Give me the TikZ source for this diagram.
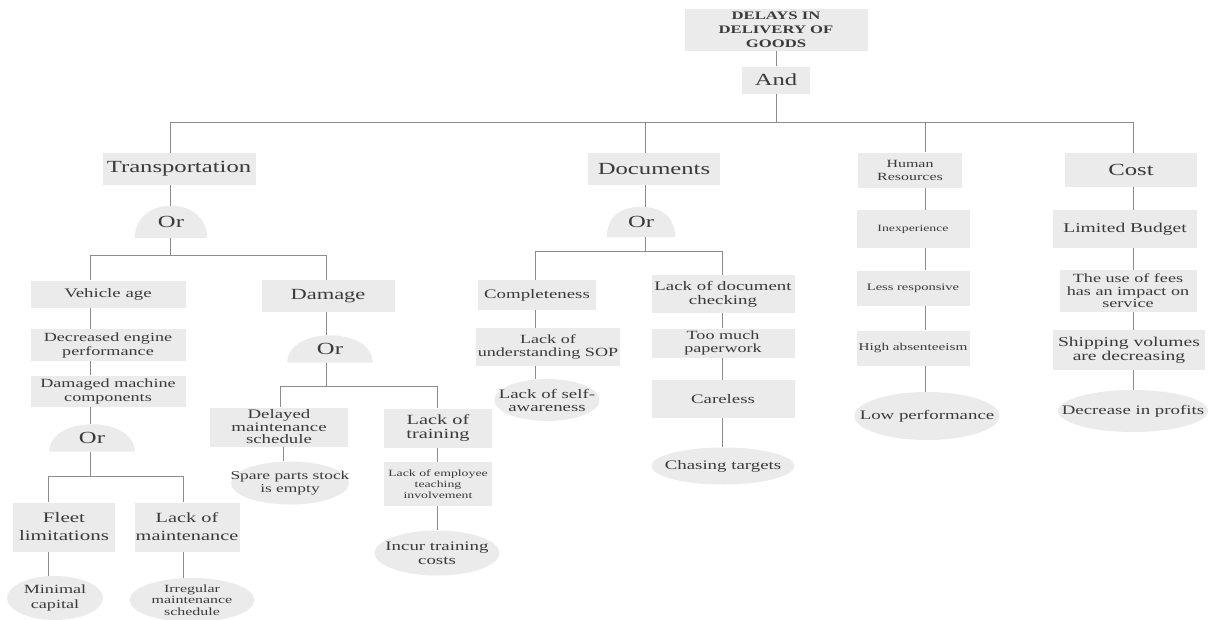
\documentclass[tikz,border=0pt]{standalone}
\usepackage{fontspec}
\setmainfont{Liberation Serif}[FakeStretch=1.45]
\usetikzlibrary{shapes.geometric,backgrounds}
\definecolor{boxgray}{HTML}{EBEBEB}
\definecolor{txt}{HTML}{3A3A3A}
\definecolor{lin}{HTML}{8C8C8C}
\newcommand\fs[2]{\fontsize{#1}{#2}\selectfont}
\newcommand\dome[1]{\fill[boxgray] (#1.south west) .. controls ([yshift=17pt]#1.south west) and ([xshift=-24pt]#1.north) .. (#1.north) .. controls ([xshift=24pt]#1.north) and ([yshift=17pt]#1.south east) .. (#1.south east) -- cycle;}
\begin{document}
\begin{tikzpicture}[x=1pt,y=-1pt,
  base/.style={fill=boxgray, text=txt, align=center, inner sep=1pt, font=\fs{13}{14}},
  rbox/.style={base, rectangle},
  ell/.style={base, ellipse, inner xsep=-60pt, inner ysep=-30pt},
  gate/.style={text=txt, inner sep=0pt, font=\fs{17}{18}},
  conn/.style={draw=lin, line width=0.8pt},
]
\useasboundingbox (0,0) rectangle (1208,619);

% x positions of vertical lines and y of bars
\coordinate (xT) at (170,0);
\coordinate (xV) at (90,0);
\coordinate (xD) at (326,0);
\coordinate (xF) at (48,0);
\coordinate (xL) at (183,0);
\coordinate (xDM) at (280,0);
\coordinate (xSP) at (283,0);
\coordinate (xLT) at (437,0);
\coordinate (xDoc) at (645,0);
\coordinate (xC) at (535,0);
\coordinate (xK) at (722,0);
\coordinate (xH) at (925,0);
\coordinate (xCo) at (1133,0);
\coordinate (yMain) at (0,122);
\coordinate (yB1) at (0,255);
\coordinate (yB2) at (0,476);
\coordinate (yB3) at (0,386);
\coordinate (yB4) at (0,251);

% top
\node[rbox, minimum width=183, minimum height=42, font=\bfseries\fs{11.5}{14}] (top) at (776,30) {DELAYS IN\\DELIVERY OF\\GOODS};
\node[rbox, minimum width=68, minimum height=27, font=\fs{17}{18}] (and) at (776,80) {And};

% level 1
\node[rbox, minimum width=153, minimum height=32, font=\fs{17}{18}] (tr) at (179,169) {Transportation};
\node[rbox, minimum width=132, minimum height=32, font=\fs{17}{18}] (doc) at (654,169) {Documents};
\node[rbox, minimum width=104, minimum height=35, font=\fs{11}{13}] (hr) at (910,170) {Human\\Resources};
\node[rbox, minimum width=132, minimum height=34, font=\fs{17}{18}] (cost) at (1131,170) {Cost};

% gates
\node[gate, minimum width=72, minimum height=32] (or1) at (171,222) {Or};
\node[gate, minimum width=85, minimum height=27] (or2) at (92,438) {Or};
\node[gate, minimum width=68, minimum height=30] (or3) at (641,222) {Or};
\node[gate, minimum width=85, minimum height=27] (or4) at (330,349) {Or};

% transportation
\node[rbox, minimum width=155, minimum height=27] (va) at (108,294) {Vehicle age};
\node[rbox, minimum width=133, minimum height=32, font=\fs{15.5}{17}] (dam) at (328,296) {Damage};
\node[rbox, minimum width=155, minimum height=32, font=\fs{12.5}{14}] (dec) at (108,345) {Decreased engine\\performance};
\node[rbox, minimum width=155, minimum height=31, font=\fs{12.5}{14}] (dmc) at (108,391) {Damaged machine\\components};
\node[rbox, minimum width=102, minimum height=49, font=\fs{14.5}{18}] (fl) at (64,527) {Fleet\\limitations};
\node[rbox, minimum width=105, minimum height=49, font=\fs{14}{18}] (lm) at (187,527) {Lack of\\maintenance};
\node[ell, minimum width=96, minimum height=44, font=\fs{12.5}{15}] (mc) at (55,598) {Minimal\\capital};
\node[ell, minimum width=125, minimum height=44, font=\fs{11}{11.5}] (irr) at (192,600) {Irregular\\maintenance\\schedule};

\node[rbox, minimum width=138, minimum height=39, font=\fs{13}{12.5}] (dms) at (279,427) {Delayed\\maintenance\\schedule};
\node[ell, minimum width=118, minimum height=43, font=\fs{12}{13}] (spe) at (290,483) {Spare parts stock\\is empty};
\node[rbox, minimum width=108, minimum height=39, font=\fs{14}{14}] (lt) at (438,428) {Lack of\\training};
\node[rbox, minimum width=108, minimum height=44, font=\fs{9.5}{11}] (lei) at (438,484) {Lack of employee\\teaching\\involvement};
\node[ell, minimum width=125, minimum height=45, font=\fs{13}{14}] (itc) at (437,553) {Incur training\\costs};

% documents
\node[rbox, minimum width=118, minimum height=30] (comp) at (537,295) {Completeness};
\node[rbox, minimum width=144, minimum height=38, font=\fs{12.5}{13}] (lus) at (548,347) {Lack of\\understanding SOP};
\node[ell, minimum width=105, minimum height=42, font=\fs{13}{13}] (lsa) at (547,400) {Lack of self-\\awareness};
\node[rbox, minimum width=143, minimum height=38] (ldc) at (723,294) {Lack of document\\checking};
\node[rbox, minimum width=143, minimum height=29, font=\fs{12.5}{13}] (tmp) at (723,343) {Too much\\paperwork};
\node[rbox, minimum width=143, minimum height=38] (car) at (723,399) {Careless};
\node[ell, minimum width=143, minimum height=37] (cht) at (723,466) {Chasing targets};

% human resources
\node[rbox, minimum width=113, minimum height=38, font=\fs{9.5}{11}] (inx) at (913,229) {Inexperience};
\node[rbox, minimum width=113, minimum height=35, font=\fs{10}{11}] (lr) at (913,288) {Less responsive};
\node[rbox, minimum width=113, minimum height=35, font=\fs{10.5}{11}] (ha) at (913,348) {High absenteeism};
\node[ell, minimum width=145, minimum height=48] (lp) at (927,416) {Low performance};

% cost
\node[rbox, minimum width=144, minimum height=38, font=\fs{13.5}{14}] (lb) at (1125,229) {Limited Budget};
\node[rbox, minimum width=137, minimum height=42, font=\fs{12.5}{12.5}] (fees) at (1128,291) {The use of fees\\has an impact on\\service};
\node[rbox, minimum width=152, minimum height=40, font=\fs{13.5}{14}] (ship) at (1129,350) {Shipping volumes\\are decreasing};
\node[ell, minimum width=150, minimum height=42] (dip) at (1133,411) {Decrease in profits};

\begin{scope}[on background layer]
\dome{or1}\dome{or2}\dome{or3}\dome{or4}
\end{scope}

% connectors: top
\draw[conn] (top) -- (and);
\draw[conn] (and.south) -- (and.south |- yMain);
\draw[conn] (xT |- yMain) -- (xCo |- yMain);
\draw[conn] (xT |- yMain) -- (xT |- tr.north);
\draw[conn] (xDoc |- yMain) -- (xDoc |- doc.north);
\draw[conn] (xH |- yMain) -- (xH |- hr.north);
\draw[conn] (xCo |- yMain) -- (xCo |- cost.north);

% transportation
\draw[conn] (xT |- tr.south) -- (xT |- or1.north);
\draw[conn] (xT |- or1.south) -- (xT |- yB1);
\draw[conn] (xV |- yB1) -- (xD |- yB1);
\draw[conn] (xV |- yB1) -- (xV |- va.north);
\draw[conn] (xD |- yB1) -- (xD |- dam.north);
\draw[conn] (xV |- va.south) -- (xV |- dec.north);
\draw[conn] (xV |- dec.south) -- (xV |- dmc.north);
\draw[conn] (xV |- dmc.south) -- (xV |- or2.north);
\draw[conn] (xV |- or2.south) -- (xV |- yB2);
\draw[conn] (xF |- yB2) -- (xL |- yB2);
\draw[conn] (xF |- yB2) -- (xF |- fl.north);
\draw[conn] (xL |- yB2) -- (xL |- lm.north);
\draw[conn] (xF |- fl.south) -- (xF |- mc.north);
\draw[conn] (xL |- lm.south) -- (xL |- irr.north);
\draw[conn] (xD |- dam.south) -- (xD |- or4.north);
\draw[conn] (xD |- or4.south) -- (xD |- yB3);
\draw[conn] (xDM |- yB3) -- (xLT |- yB3);
\draw[conn] (xDM |- yB3) -- (xDM |- dms.north);
\draw[conn] (xLT |- yB3) -- (xLT |- lt.north);
\draw[conn] (xSP |- dms.south) -- (xSP |- spe.north);
\draw[conn] (xLT |- lt.south) -- (xLT |- lei.north);
\draw[conn] (xLT |- lei.south) -- (xLT |- itc.north);

% documents
\draw[conn] (xDoc |- doc.south) -- (xDoc |- or3.north);
\draw[conn] (xDoc |- or3.south) -- (xDoc |- yB4);
\draw[conn] (xC |- yB4) -- (xK |- yB4);
\draw[conn] (xC |- yB4) -- (xC |- comp.north);
\draw[conn] (xK |- yB4) -- (xK |- ldc.north);
\draw[conn] (xC |- comp.south) -- (xC |- lus.north);
\draw[conn] (xC |- lus.south) -- (xC |- lsa.north);
\draw[conn] (xK |- ldc.south) -- (xK |- tmp.north);
\draw[conn] (xK |- tmp.south) -- (xK |- car.north);
\draw[conn] (xK |- car.south) -- (xK |- cht.north);

% human resources
\draw[conn] (xH |- hr.south) -- (xH |- inx.north);
\draw[conn] (xH |- inx.south) -- (xH |- lr.north);
\draw[conn] (xH |- lr.south) -- (xH |- ha.north);
\draw[conn] (xH |- ha.south) -- (xH |- lp.north);

% cost
\draw[conn] (xCo |- cost.south) -- (xCo |- lb.north);
\draw[conn] (xCo |- lb.south) -- (xCo |- fees.north);
\draw[conn] (xCo |- fees.south) -- (xCo |- ship.north);
\draw[conn] (xCo |- ship.south) -- (xCo |- dip.north);
\end{tikzpicture}
\end{document}
